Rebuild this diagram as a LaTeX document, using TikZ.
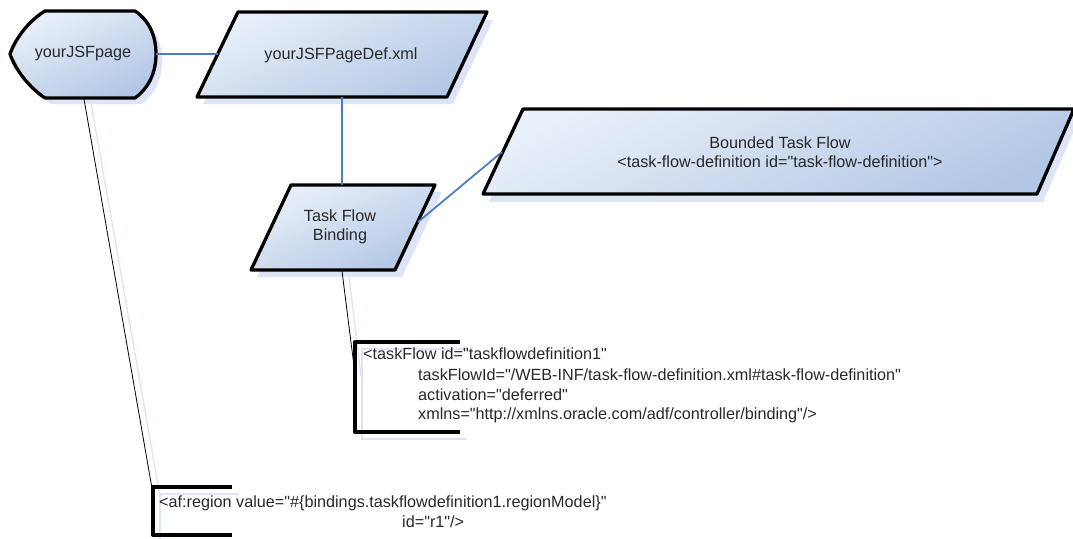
\documentclass[tikz,border=0pt]{standalone}
\usepackage{fontspec}
\newfontfamily\arialfont{Liberation Sans}
\definecolor{cLight}{RGB}{234,240,249}
\definecolor{cDark}{RGB}{178,199,229}
\definecolor{cShadow}{RGB}{220,228,245}
\definecolor{cBlue}{RGB}{74,126,190}
\definecolor{cText}{RGB}{40,40,40}
\begin{document}
\begin{tikzpicture}[x=1pt,y=-1pt,
  shp/.style={draw=black, line width=3.3pt, line join=round, top color=cLight, bottom color=cDark, shading angle=25},
  shd/.style={fill=cShadow, draw=none},
  blueline/.style={draw=cBlue, line width=1.8pt},
  thinline/.style={draw=black, line width=0.8pt},
  shline/.style={draw=cShadow, line width=1.3pt},
  brk/.style={draw=black, line width=3.3pt, line join=round},
  brkshd/.style={draw=cShadow, line width=2pt},
  lbl/.style={text=cText, align=center, inner sep=0pt},
  code/.style={anchor=base west, inner sep=0pt, text=cText},
  font=\arialfont\fontsize{16.2}{19.5}\selectfont]
\useasboundingbox (0,0) rectangle (1073,538);

% ---------- shadows ----------
\path[shd] (51,18) -- (141,18) .. controls (156,28) and (162,44) .. (162,61)
  .. controls (162,78) and (156,94) .. (141,104) -- (51,104)
  .. controls (36,95) and (22,78) .. (16,61) .. controls (22,44) and (36,27) .. (51,18) -- cycle;
\path[shd] (244,20) -- (493,20) -- (453,104) -- (203,104) -- cycle;
\path[shd] (297,192) -- (442,192) -- (402,277) -- (257,277) -- cycle;
\path[shd] (529,117) -- (1080,117) -- (1043,202) -- (489,202) -- cycle;

% ---------- shapes ----------
\path[shp] (45,11) -- (135,11) .. controls (150,21) and (156,37) .. (156,54)
  .. controls (156,71) and (150,87) .. (135,98) -- (45,98)
  .. controls (30,88) and (16,71) .. (10,54) .. controls (16,37) and (30,20) .. (45,11) -- cycle;
\path[shp] (238,12) -- (487,12) -- (447,97) -- (197,97) -- cycle;
\path[shp] (291,185) -- (435,185) -- (395,270) -- (251,270) -- cycle;
\path[shp] (523,109) -- (1074,109) -- (1037,194) -- (483,194) -- cycle;

% ---------- labels ----------
\node[lbl] (page) at (83,54) {yourJSFpage};
\node[lbl] (def) at (341,55) {yourJSFPageDef.xml};
\node[lbl] (tfb) at (340,227) {Task Flow\\Binding};
\node[lbl] (btf) at (780,152) {Bounded Task Flow\\<task-flow-definition id="task-flow-definition">};

% ---------- connector end points ----------
\coordinate (pageR) at (156,54);
\coordinate (defL) at (218,54);
\coordinate (defB) at (342,97);
\coordinate (tfbT) at (342,185);
\coordinate (tfbR) at (418,222);
\coordinate (btfL) at (502,152);
\coordinate (tfbB) at (342,271);
\coordinate (annA) at (355,374);
\coordinate (tfbBs) at (349,276);
\coordinate (annAs) at (361,376);
\coordinate (pageB) at (84,99);
\coordinate (annB) at (153,494);
\coordinate (pageBs) at (91,103);
\coordinate (annBs) at (160,496);

% ---------- connectors ----------
\draw[blueline] (pageR) -- (defL);
\draw[blueline] (defB) -- (tfbT);
\draw[blueline] (tfbR) -- (btfL);
\draw[shline] (tfbBs) -- (annAs);
\draw[thinline] (tfbB) -- (annA);
\draw[shline] (pageBs) -- (annBs);
\draw[thinline] (pageB) -- (annB);

% ---------- annotation brackets ----------
\draw[brkshd] (467,349) -- (362,349) -- (362,439) -- (467,439);
\draw[brk] (460,342) -- (355,342) -- (355,432) -- (460,432);
\draw[brkshd] (239,494) -- (160,494) -- (160,541);
\draw[brk] (232,487) -- (153,487) -- (153,535) -- (232,535);

% ---------- annotation texts ----------
\node[code] (a1) at (363,359.5) {<taskFlow id="taskflowdefinition1"};
\node[code] (a2) at (418,380.5) {taskFlowId="/WEB-INF/task-flow-definition.xml\#task-flow-definition"};
\node[code] (a3) at (418,400.5) {activation="deferred"};
\node[code] (a4) at (418,419.5) {xmlns="http://xmlns.oracle.com/adf/controller/binding"/>};
\node[code] (b1) at (159,507) {<af:region value="\#\{bindings.taskflowdefinition1.regionModel\}"};
\node[code] (b2) at (402,527) {id="r1"/>};
\end{tikzpicture}
\end{document}
